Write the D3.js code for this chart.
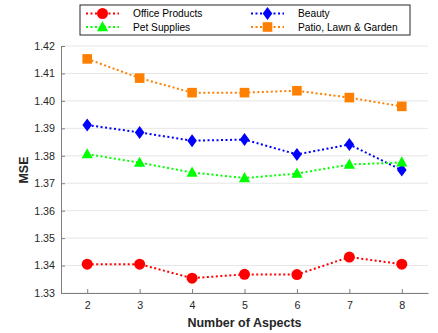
<!DOCTYPE html>
<html>
<head>
<meta charset="utf-8">
<script src="https://cdn.jsdelivr.net/npm/d3@7"></script>
<style>
  body { margin: 0; background: #fff; }
  svg { font-family: "Liberation Sans", Arial, sans-serif; }
</style>
</head>
<body>
<svg id="chart" width="438" height="333"></svg>
<script>
// data
var aspects = [2, 3, 4, 5, 6, 7, 8];
var officeProducts = [1.3405, 1.3405, 1.3354, 1.3368, 1.3367, 1.3431, 1.3405];
var petSupplies = [1.3806, 1.3775, 1.3739, 1.3719, 1.3735, 1.3768, 1.3776];
var beauty = [1.3912, 1.3885, 1.3855, 1.3859, 1.3805, 1.3841, 1.3748];
var patio = [1.4153, 1.4083, 1.4030, 1.4030, 1.4037, 1.4012, 1.3980];
var yTicks = [1.33, 1.34, 1.35, 1.36, 1.37, 1.38, 1.39, 1.40, 1.41, 1.42];

var series = [
  { name: 'Office Products', values: officeProducts, color: '#ff0000', marker: 'circle' },
  { name: 'Beauty', values: beauty, color: '#0000ff', marker: 'diamond' },
  { name: 'Pet Supplies', values: petSupplies, color: '#00ff00', marker: 'triangle' },
  { name: 'Patio, Lawn & Garden', values: patio, color: '#ff8000', marker: 'square' }
];

var svg = d3.select('#chart');
var plotLeft = 61, plotRight = 428, plotTop = 46, plotBottom = 293;

var x = d3.scaleLinear().domain([1.5, 8.5]).range([plotLeft, plotRight]);
var y = d3.scaleLinear().domain([1.33, 1.42]).range([plotBottom, plotTop]);

// grid
svg.append('g').selectAll('line').data(yTicks).enter().append('line')
  .attr('x1', plotLeft).attr('x2', plotRight)
  .attr('y1', function(d) { return y(d); }).attr('y2', function(d) { return y(d); })
  .attr('stroke', '#e6e6e6').attr('stroke-width', 1);

// axes
var yAxis = svg.append('g').attr('transform', 'translate(' + plotLeft + ',0)')
  .call(d3.axisLeft(y).tickValues(yTicks).tickFormat(d3.format('.2f')).tickSizeInner(-4).tickSizeOuter(0).tickPadding(6));
var xAxis = svg.append('g').attr('transform', 'translate(0,' + plotBottom + ')')
  .call(d3.axisBottom(x).tickValues(aspects).tickFormat(d3.format('d')).tickSizeInner(-4).tickSizeOuter(0).tickPadding(8));
[yAxis, xAxis].forEach(function(a) {
  a.select('.domain').attr('stroke', '#7f7f7f');
  a.selectAll('.tick line').attr('stroke', '#7f7f7f');
  a.selectAll('.tick text').attr('fill', '#262626').style('font-size', '10.7px');
});

function drawMarker(g, type, color) {
  if (type === 'circle') {
    g.append('circle').attr('r', 5.5).attr('fill', color);
  } else if (type === 'diamond') {
    g.append('path').attr('d', 'M0,-6.5L4.8,0L0,6.5L-4.8,0Z').attr('fill', color);
  } else if (type === 'triangle') {
    g.append('path').attr('d', 'M0,-6L5.6,4.2L-5.6,4.2Z').attr('fill', color);
  } else {
    g.append('rect').attr('x', -4.8).attr('y', -4.8).attr('width', 9.6).attr('height', 9.6).attr('fill', color);
  }
}

var line = d3.line()
  .x(function(d, i) { return x(aspects[i]); })
  .y(function(d) { return y(d); });

series.forEach(function(s) {
  svg.append('path').datum(s.values)
    .attr('d', line)
    .attr('fill', 'none')
    .attr('stroke', s.color)
    .attr('stroke-width', 2)
    .attr('stroke-dasharray', '2,2.5');
  s.values.forEach(function(v, i) {
    var g = svg.append('g').attr('transform', 'translate(' + x(aspects[i]) + ',' + y(v) + ')');
    drawMarker(g, s.marker, s.color);
  });
});

// axis labels
svg.append('text').attr('x', (plotLeft + plotRight) / 2).attr('y', 327)
  .attr('text-anchor', 'middle').attr('font-weight', 'bold').attr('font-size', '12.5px')
  .attr('fill', '#262626').text('Number of Aspects');
svg.append('text').attr('transform', 'translate(28,170) rotate(-90)')
  .attr('text-anchor', 'middle').attr('font-weight', 'bold').attr('font-size', '12.5px')
  .attr('fill', '#262626').text('MSE');

// legend
var legend = svg.append('g');
legend.append('rect').attr('x', 80).attr('y', 5).attr('width', 330).attr('height', 30)
  .attr('fill', '#fff').attr('stroke', '#262626').attr('stroke-width', 1);
var legendPos = [[86, 13.5], [251, 13.5], [86, 27], [251, 27]];
series.forEach(function(s, i) {
  var px = legendPos[i][0], py = legendPos[i][1];
  legend.append('line').attr('x1', px).attr('x2', px + 33).attr('y1', py).attr('y2', py)
    .attr('stroke', s.color).attr('stroke-width', 2).attr('stroke-dasharray', '2,2.5');
  var g = legend.append('g').attr('transform', 'translate(' + (px + 16.5) + ',' + py + ')');
  drawMarker(g, s.marker, s.color);
  legend.append('text').attr('x', px + 47).attr('y', py + 3.8).attr('font-size', '10.2px')
    .attr('fill', '#000').text(s.name);
});
</script>
</body>
</html>
